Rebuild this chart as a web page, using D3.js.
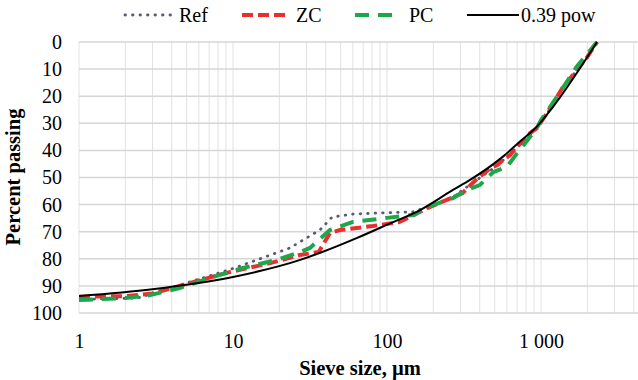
<!DOCTYPE html>
<html>
<head>
<meta charset="utf-8">
<script src="https://cdn.jsdelivr.net/npm/d3@7"></script>
<style>
  body { margin: 0; background: #fff; }
  text { font-family: "Liberation Serif", "Times New Roman", serif; fill: #000; }
</style>
</head>
<body>
<div id="chart"></div>
<script>
// sieve sizes (µm) and passing values
const refSize = [1, 2.4, 3.9, 9.5, 14.3, 23.4, 36.6, 44, 60, 100, 147, 256, 385, 520, 700, 940, 1100, 1390, 2000, 2311];
const refPass = [95, 94.5, 90.8, 84, 80.4, 76, 69.4, 64.6, 63.5, 63, 62.7, 58, 50.8, 45.6, 38.8, 32, 26.2, 16.8, 5.5, 0];

const zcSize = [1, 2, 3, 4.7, 9.5, 17.4, 27.2, 36, 42.6, 49.5, 81, 121, 180, 310, 385, 468, 520, 566, 630, 700, 760, 850, 940, 1100, 1390, 2000, 2311];
const zcPass = [94, 93.8, 92.8, 89.7, 84.9, 81.6, 78.6, 77.5, 70.5, 69.4, 67.9, 66.4, 61.5, 55.7, 50.4, 46.6, 45.4, 43.6, 41.7, 38.6, 36.8, 33.6, 31.8, 26, 16.6, 5.5, 0];

const pcSize = [1, 2, 2.9, 4.5, 7.4, 11.6, 19.3, 27.2, 31.6, 42.6, 60, 100, 150, 176, 268, 330, 400, 490, 600, 700, 790, 940, 1000, 1200, 1330, 1700, 2311];
const pcPass = [95.2, 94.5, 93.4, 90.8, 86.7, 83.4, 80.4, 77.5, 76, 69.4, 66.4, 64.9, 63.8, 61.3, 57.6, 54.6, 52.8, 48, 46.1, 41, 37.3, 31.7, 28.8, 22.3, 18.5, 9.2, 0];

const powSize = [1, 3, 10, 27, 38, 64, 104, 164, 268, 346, 566, 727, 942, 1197, 2311];
const powPass = [93.7, 91.2, 86.7, 80.5, 77.5, 72.3, 67, 62, 54.6, 50.9, 42.3, 36.8, 31.2, 23.9, 0];

const yTicks = [0, 10, 20, 30, 40, 50, 60, 70, 80, 90, 100];
const xTicks = [1, 10, 100, 1000];
const xTickLabels = ['1', '10', '100', '1 000'];

const series = [
  { name: 'Ref', size: refSize, pass: refPass, color: '#5a5872', width: 2.8, dash: '0.5 7', cap: 'round' },
  { name: 'ZC', size: zcSize, pass: zcPass, color: '#e8312f', width: 4, dash: '11 5', cap: 'butt' },
  { name: 'PC', size: pcSize, pass: pcPass, color: '#1ea64c', width: 4, dash: '14 9', cap: 'butt' },
  { name: '0.39 pow', size: powSize, pass: powPass, color: '#000', width: 2, dash: null, cap: 'butt' }
];

const width = 638, height = 380;
const margin = { top: 42, right: 1, bottom: 67, left: 79 };

const svg = d3.select('#chart').append('svg')
  .attr('width', width)
  .attr('height', height);

const x = d3.scaleLog()
  .domain([1, 4200])
  .range([margin.left, width - margin.right]);

const y = d3.scaleLinear()
  .domain([0, 100])
  .range([margin.top, height - margin.bottom]);

// vertical grid (log minor lines)
const vGrid = [];
for (let dec = 1; dec <= 1000; dec *= 10) {
  for (let m = 1; m <= 9; m++) {
    const v = dec * m;
    if (v <= 4200) vGrid.push(v);
  }
}
svg.append('g')
  .selectAll('line')
  .data(vGrid)
  .enter()
  .append('line')
  .attr('x1', d => x(d))
  .attr('x2', d => x(d))
  .attr('y1', y(0))
  .attr('y2', y(100))
  .attr('stroke', '#e2e2e2')
  .attr('stroke-width', 1);

// horizontal grid
svg.append('g')
  .selectAll('line')
  .data(yTicks)
  .enter()
  .append('line')
  .attr('x1', margin.left)
  .attr('x2', width)
  .attr('y1', d => y(d))
  .attr('y2', d => y(d))
  .attr('stroke', '#d6d6d6')
  .attr('stroke-width', 1.5);

// y axis labels
const yAxis = svg.append('g')
  .attr('transform', `translate(${margin.left},0)`)
  .call(d3.axisLeft(y).tickValues(yTicks).tickSize(0).tickPadding(17));
yAxis.select('.domain').remove();
yAxis.selectAll('text')
  .style('font-family', '"Liberation Serif", serif')
  .style('font-size', '20px');

// x axis labels
const xAxis = svg.append('g')
  .attr('transform', `translate(0,${y(100)})`)
  .call(d3.axisBottom(x).tickValues(xTicks).tickFormat((d, i) => xTickLabels[i]).tickSize(0).tickPadding(21));
xAxis.select('.domain').remove();
xAxis.selectAll('text')
  .style('font-family', '"Liberation Serif", serif')
  .style('font-size', '20px');

// axis titles
svg.append('text')
  .attr('x', 360)
  .attr('y', 375)
  .attr('text-anchor', 'middle')
  .style('font-size', '20.5px')
  .style('font-weight', 'bold')
  .text('Sieve size, µm');

svg.append('text')
  .attr('transform', 'translate(20,177) rotate(-90)')
  .attr('text-anchor', 'middle')
  .style('font-size', '20.5px')
  .style('font-weight', 'bold')
  .text('Percent passing');

// series lines
const line = d3.line()
  .x(d => x(d[0]))
  .y(d => y(d[1]));

const smooth = d3.line()
  .x(d => x(d[0]))
  .y(d => y(d[1]))
  .curve(d3.curveMonotoneX);

svg.append('defs').append('clipPath').attr('id', 'plot')
  .append('rect')
  .attr('x', margin.left)
  .attr('y', margin.top - 3)
  .attr('width', width - margin.left)
  .attr('height', y(100) - margin.top + 6);

const lines = svg.append('g').attr('clip-path', 'url(#plot)');
series.forEach(s => {
  const pts = s.size.map((v, i) => [v, s.pass[i]]);
  lines.append('path')
    .datum(pts)
    .attr('fill', 'none')
    .attr('stroke', s.color)
    .attr('stroke-width', s.width)
    .attr('stroke-dasharray', s.dash)
    .attr('stroke-linecap', s.cap)
    .attr('d', s.dash ? line(pts) : smooth(pts));
});

// legend
const legendX = [125, 242, 355, 467];
const legend = svg.append('g');
series.forEach((s, i) => {
  const g = legend.append('g').attr('transform', `translate(${legendX[i]},15)`);
  g.append('line')
    .attr('x1', 0)
    .attr('x2', i === 3 ? 52 : 46)
    .attr('y1', 0)
    .attr('y2', 0)
    .attr('stroke', s.color)
    .attr('stroke-width', s.width)
    .attr('stroke-dasharray', s.dash)
    .attr('stroke-linecap', s.cap);
  g.append('text')
    .attr('x', 54)
    .attr('y', 7)
    .style('font-size', '20px')
    .text(s.name);
});
</script>
</body>
</html>
